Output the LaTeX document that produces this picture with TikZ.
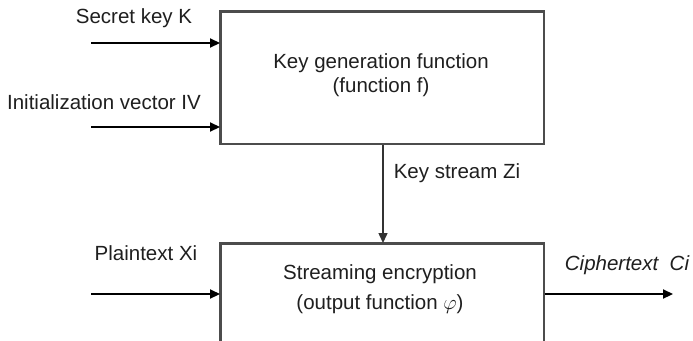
\documentclass[tikz,border=0pt]{standalone}
\usepackage{fontspec}
\setmainfont{Liberation Sans}
\usetikzlibrary{arrows.meta}
\begin{document}
\begin{tikzpicture}[x=1pt,y=-1pt,
  lbl/.style={text=black!88, font=\fontsize{20.5}{24}\selectfont, inner sep=0pt},
  blockbox/.style={draw=black!70, line width=1.6pt, fill=white, inner sep=0pt},
  arr/.style={draw=black, line width=2.2pt, -{Triangle[length=10pt,width=9pt]}},
  thinarr/.style={draw=black!80, line width=1.5pt, -{Triangle[length=10pt,width=9pt]}}
]
\clip (0,0) rectangle (693,340);
\fill[white] (0,0) rectangle (693,340);

% blocks
\node[blockbox, minimum width=323pt, minimum height=132pt, anchor=north west] (kg) at (220,11) {};
\node[blockbox, minimum width=323pt, minimum height=130pt, anchor=north west] (enc) at (220,243) {};
% heavier top and left edges
\draw[black!70, line width=2.8pt] (kg.south west) -- (kg.north west) -- (kg.north east);
\draw[black!70, line width=2.8pt] (enc.south west) -- (enc.north west) -- (enc.north east);

\node[lbl, align=center] (kgtext) at (381,75) {Key generation function\\(function f)};
\node[lbl, align=center, font=\fontsize{20.5}{30}\selectfont] (enctext) at (380,289) {Streaming encryption\\(output function $\varphi$)};

% inputs
\coordinate (kin) at (91,43);
\coordinate (ivin) at (91,127);
\coordinate (xin) at (91,294);
\coordinate (cout) at (673,294);
\draw[arr] (kin) -- (kin -| kg.west);
\draw[arr] (ivin) -- (ivin -| kg.west);
\draw[arr] (xin) -- (xin -| enc.west);
\draw[arr] (cout -| enc.east) -- (cout);

% key stream
\coordinate (ks) at (383,0);
\draw[thinarr] (ks |- kg.south) -- (ks |- enc.north);

% labels
\node[lbl] (lk) at (134,18) {Secret key K};
\node[lbl] (liv) at (104,102) {Initialization vector IV};
\node[lbl] (lx) at (146,253) {Plaintext Xi};
\node[lbl] (lz) at (457,173) {Key stream Zi};
\node[lbl, font=\fontsize{20.5}{24}\selectfont\itshape] (lc) at (627,265) {Ciphertext\ \ Ci};
\end{tikzpicture}
\end{document}
